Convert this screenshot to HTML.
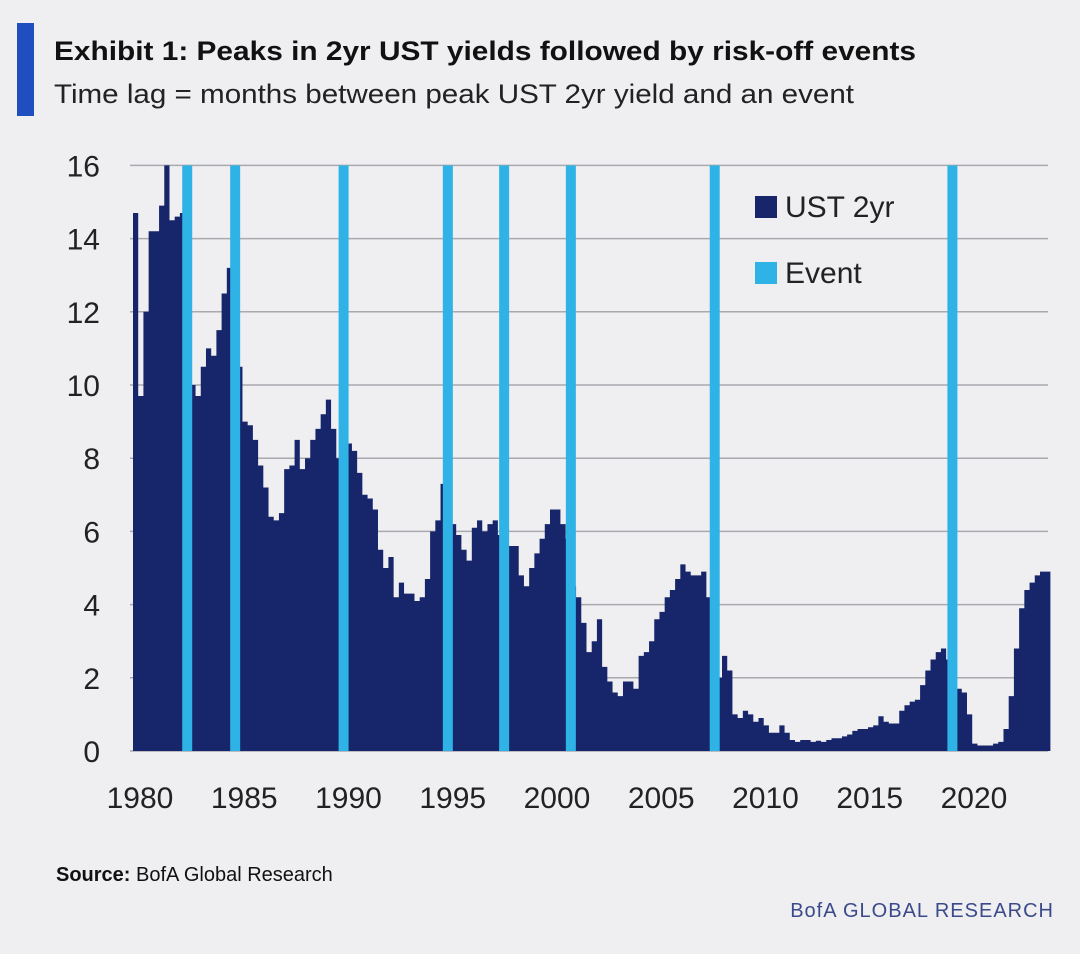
<!DOCTYPE html>
<html><head><meta charset="utf-8"><style>
body{margin:0;background:#efeef1;width:1080px;height:949px;overflow:hidden;font-family:"Liberation Sans",sans-serif;}
</style></head><body>
<svg width="1080" height="949" xmlns="http://www.w3.org/2000/svg">
<rect x="0" y="0" width="1080" height="949" fill="#efeef1"/>
<rect x="17" y="23" width="17" height="93" fill="#1f4fbf"/>
<text x="54" y="60" font-size="27" font-weight="bold" fill="#111" textLength="862" lengthAdjust="spacingAndGlyphs">Exhibit 1: Peaks in 2yr UST yields followed by risk-off events</text>
<text x="54" y="103" font-size="27" fill="#222" textLength="800" lengthAdjust="spacingAndGlyphs">Time lag = months between peak UST 2yr yield and an event</text>
<g id="grid"></g>
<g id="area"></g>
<g id="events"></g>
<g id="yticks"></g>
<g id="xticks"></g>
<rect x="755" y="196" width="22" height="22" fill="#17266b"/>
<text x="785" y="217" font-size="30" fill="#222">UST 2yr</text>
<rect x="755" y="262" width="22" height="22" fill="#2fb2e6"/>
<text x="785" y="283" font-size="30" fill="#222">Event</text>
<text x="56" y="881" font-size="20" fill="#111"><tspan font-weight="bold">Source:</tspan> BofA Global Research</text>
<text x="1054" y="917" font-size="20" fill="#3b4a8a" text-anchor="end" letter-spacing="1">BofA GLOBAL RESEARCH</text>
</svg>
<script>
const yTicks=[0,2,4,6,8,10,12,14,16];
const xTicks=[1980,1985,1990,1995,2000,2005,2010,2015,2020];
const startYear=1980;
const ust2yr=[14.7,9.7,12.0,14.2, 14.2,14.9,16.0,14.5, 14.6,14.7,12.0,10.0,
9.7,10.5,11.0,10.8, 11.5,12.5,13.2,12.0, 10.5,9.0,8.9,8.5, 7.8,7.2,6.4,6.3,
6.5,7.7,7.8,8.5, 7.7,8.0,8.5,8.8, 9.2,9.6,8.8,8.0, 8.3,8.4,8.2,7.6,
7.0,6.9,6.6,5.5, 5.0,5.3,4.2,4.6, 4.3,4.3,4.1,4.2, 4.7,6.0,6.3,7.3,
7.0,6.2,5.9,5.5, 5.2,6.1,6.3,6.0, 6.2,6.3,5.9,5.7, 5.6,5.6,4.8,4.5,
5.0,5.4,5.8,6.2, 6.6,6.6,6.2,5.8, 4.5,4.2,3.5,2.7, 3.0,3.6,2.3,1.9,
1.6,1.5,1.9,1.9, 1.7,2.6,2.7,3.0, 3.6,3.8,4.2,4.4, 4.7,5.1,4.9,4.8,
4.8,4.9,4.2,3.1, 2.0,2.6,2.2,1.0, 0.9,1.1,1.0,0.8, 0.9,0.7,0.5,0.5,
0.7,0.5,0.3,0.25, 0.3,0.3,0.25,0.28, 0.25,0.3,0.35,0.35, 0.4,0.45,0.55,0.6,
0.6,0.65,0.7,0.95, 0.8,0.75,0.75,1.1, 1.25,1.35,1.4,1.8, 2.2,2.5,2.7,2.8,
2.5,2.3,1.7,1.6, 1.0,0.2,0.15,0.15, 0.15,0.2,0.25,0.6, 1.5,2.8,3.9,4.4,
4.6,4.8,4.9,4.9];
const eventYears=[1982.6,1984.9,1990.1,1995.1,1997.8,2001.0,2007.9,2019.3];
const NS="http://www.w3.org/2000/svg";
const X=y=>133+(y-1980)*20.85;
const Y=v=>751-v*36.6;
function mk(t,a,p){const e=document.createElementNS(NS,t);for(const k in a)e.setAttribute(k,a[k]);p.appendChild(e);return e;}
const g=document.getElementById('grid');
yTicks.forEach(v=>{const l=mk('line',{x1:130,x2:1048,y1:Y(v),y2:Y(v),stroke:'#a9a9b0','stroke-width':1.5},g);

});
const yt=document.getElementById('yticks');
yTicks.forEach(v=>{const t=mk('text',{x:100,y:Y(v)+11,'font-size':30,fill:'#222','text-anchor':'end'},yt);t.textContent=v;

});
const xt=document.getElementById('xticks');
xTicks.forEach(v=>{const t=mk('text',{x:X(v)+7,y:808,'font-size':30,fill:'#222','text-anchor':'middle'},xt);t.textContent=v;

});
let d='M'+X(startYear)+','+Y(0);
ust2yr.forEach((v,i)=>{const x0=X(startYear+i/4),x1=X(startYear+(i+1)/4);d+=' L'+x0+','+Y(v)+' L'+x1+','+Y(v);});
d+=' L'+X(startYear+ust2yr.length/4)+','+Y(0)+' Z';
const a=mk('path',{d:d,fill:'#17266b'},document.getElementById('area'));


const ev=document.getElementById('events');
eventYears.forEach(y=>{const r=mk('rect',{x:X(y)-5,y:Y(16),width:10,height:Y(0)-Y(16),fill:'#2fb2e6'},ev);

});
</script>
</body></html>
